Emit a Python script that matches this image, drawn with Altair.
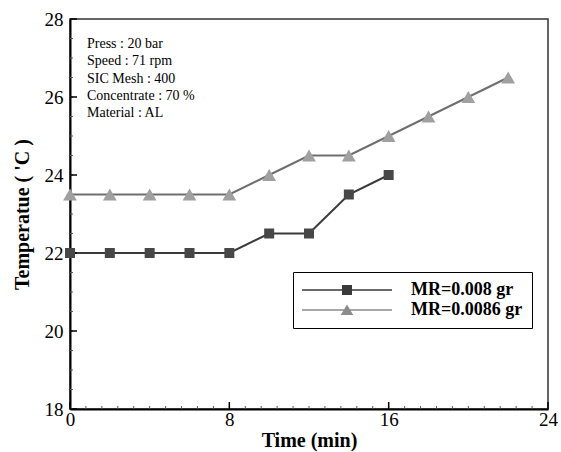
import altair as alt
import pandas as pd

# ---- data ----
time_a = [0, 2, 4, 6, 8, 10, 12, 14, 16]
temp_a = [22, 22, 22, 22, 22, 22.5, 22.5, 23.5, 24]
time_b = [0, 2, 4, 6, 8, 10, 12, 14, 16, 18, 20, 22]
temp_b = [23.5, 23.5, 23.5, 23.5, 23.5, 24, 24.5, 24.5, 25, 25.5, 26, 26.5]
series_names = ["MR=0.008 gr", "MR=0.0086 gr"]
x_major = [0, 8, 16, 24]
x_minor = [round(i * 0.8, 2) for i in range(31)]
y_major = [18, 20, 22, 24, 26, 28]
y_minor = [18 + i * 0.5 for i in range(21)]
notes = ["Press : 20 bar", "Speed : 71 rpm", "SIC Mesh : 400",
         "Concentrate : 70 %", "Material : AL"]

df = pd.DataFrame({
    "time": time_a + time_b,
    "temp": temp_a + temp_b,
    "series": [series_names[0]] * len(time_a) + [series_names[1]] * len(time_b),
})

SERIF = "Liberation Serif"
W, H = 478, 390
line_colors = ["#3a3a3a", "#6e6e6e"]
marker_colors = ["#474747", "#a0a0a0"]
legend_colors = ["#3a3a3a", "#8c8c8c"]

xs = alt.Scale(domain=[0, 24], nice=False, zero=False)
ys = alt.Scale(domain=[18, 28], nice=False, zero=False)

# legend symbols: a line with a marker on it
sq_path = "M-9,-0.15H9V0.15H-9Z M-1,-1H1V1H-1Z"
tri_path = "M-9,-0.15H9V0.15H-9Z M0,-1.1L1.25,1L-1.25,1Z"

lines = alt.Chart(df).mark_line(strokeWidth=2).encode(
    x=alt.X("time:Q", scale=xs, axis=alt.Axis(
        values=x_major, title="Time (min)", tickSize=0, labelPadding=1,
        labelFlush=False, titlePadding=1, domainWidth=2, domainColor="black",
        grid=False)),
    y=alt.Y("temp:Q", scale=ys, axis=alt.Axis(
        values=y_major, title="Temperatue ( 'C )", tickSize=0, labelPadding=7,
        labelFlush=False, titlePadding=12, domainWidth=2, domainColor="black",
        grid=False)),
    color=alt.Color("series:N", scale=alt.Scale(domain=series_names, range=line_colors),
                    legend=None),
)

points = alt.Chart(df).mark_point(filled=True, opacity=1, strokeWidth=0).encode(
    x=alt.X("time:Q", scale=xs, axis=None),
    y=alt.Y("temp:Q", scale=ys, axis=None),
    color=alt.Color("series:N", scale=alt.Scale(domain=series_names, range=marker_colors),
                    legend=None),
    shape=alt.Shape("series:N", scale=alt.Scale(domain=series_names,
                                                range=["square", "triangle-up"]),
                    legend=None),
    size=alt.Size("series:N", scale=alt.Scale(domain=series_names, range=[100, 190]),
                  legend=None),
)

legend_layer = alt.Chart(df).transform_filter("datum.time < 0").mark_point(
    filled=True, opacity=1, strokeWidth=0
).encode(
    x=alt.X("time:Q", scale=xs, axis=None),
    y=alt.Y("temp:Q", scale=ys, axis=None),
    color=alt.Color("series:N", scale=alt.Scale(domain=series_names, range=legend_colors),
                    legend=alt.Legend(title=None)),
    shape=alt.Shape("series:N", scale=alt.Scale(domain=series_names,
                                                range=[sq_path, tri_path]),
                    legend=alt.Legend(title=None)),
)

# inward tick marks, placed through the axis scales
xmaj = alt.Chart(pd.DataFrame({"v": x_major})).mark_rule(color="black", strokeWidth=1.5).encode(
    x=alt.X("v:Q", scale=xs, axis=None), y=alt.value(H), y2=alt.value(H - 7))
xmin = alt.Chart(pd.DataFrame({"v": x_minor})).mark_rule(color="#555", strokeWidth=1).encode(
    x=alt.X("v:Q", scale=xs, axis=None), y=alt.value(H), y2=alt.value(H - 3))
ymaj = alt.Chart(pd.DataFrame({"v": y_major})).mark_rule(color="black", strokeWidth=1.5).encode(
    y=alt.Y("v:Q", scale=ys, axis=None), x=alt.value(0), x2=alt.value(7))
ymin = alt.Chart(pd.DataFrame({"v": y_minor})).mark_rule(color="#555", strokeWidth=1).encode(
    y=alt.Y("v:Q", scale=ys, axis=None), x=alt.value(0), x2=alt.value(3))

note_df = pd.DataFrame({"txt": ["\n".join(notes)]})
note = alt.Chart(note_df).mark_text(
    align="left", baseline="alphabetic", font=SERIF, fontSize=14,
    lineBreak="\n", lineHeight=17.3, color="black"
).encode(text="txt:N", x=alt.value(17), y=alt.value(29))

chart = alt.layer(lines, xmin, ymin, xmaj, ymaj, points, legend_layer, note).resolve_scale(
    color="independent", shape="independent", size="independent"
).resolve_axis(
    x="independent", y="independent"
).properties(
    width=W, height=H,
    autosize=alt.AutoSizeParams(type="none"),
    padding={"left": 70, "top": 19, "right": 13, "bottom": 43},
).configure_view(
    stroke="#333", strokeWidth=1.5
).configure_axis(
    labelFont=SERIF, labelFontSize=19, labelColor="black",
    titleFont=SERIF, titleFontSize=20, titleFontWeight="bold", titleColor="black",
).configure_legend(
    orient="none", legendX=223, legendY=253,
    strokeColor="black", fillColor="white", padding=9,
    symbolSize=100, symbolOffset=36, labelOffset=55,
    labelFont=SERIF, labelFontSize=18, labelFontWeight="bold", labelColor="black",
    rowPadding=2, symbolStrokeWidth=0,
)

chart.save("out.html", embed_options={"renderer": "svg", "actions": False})
